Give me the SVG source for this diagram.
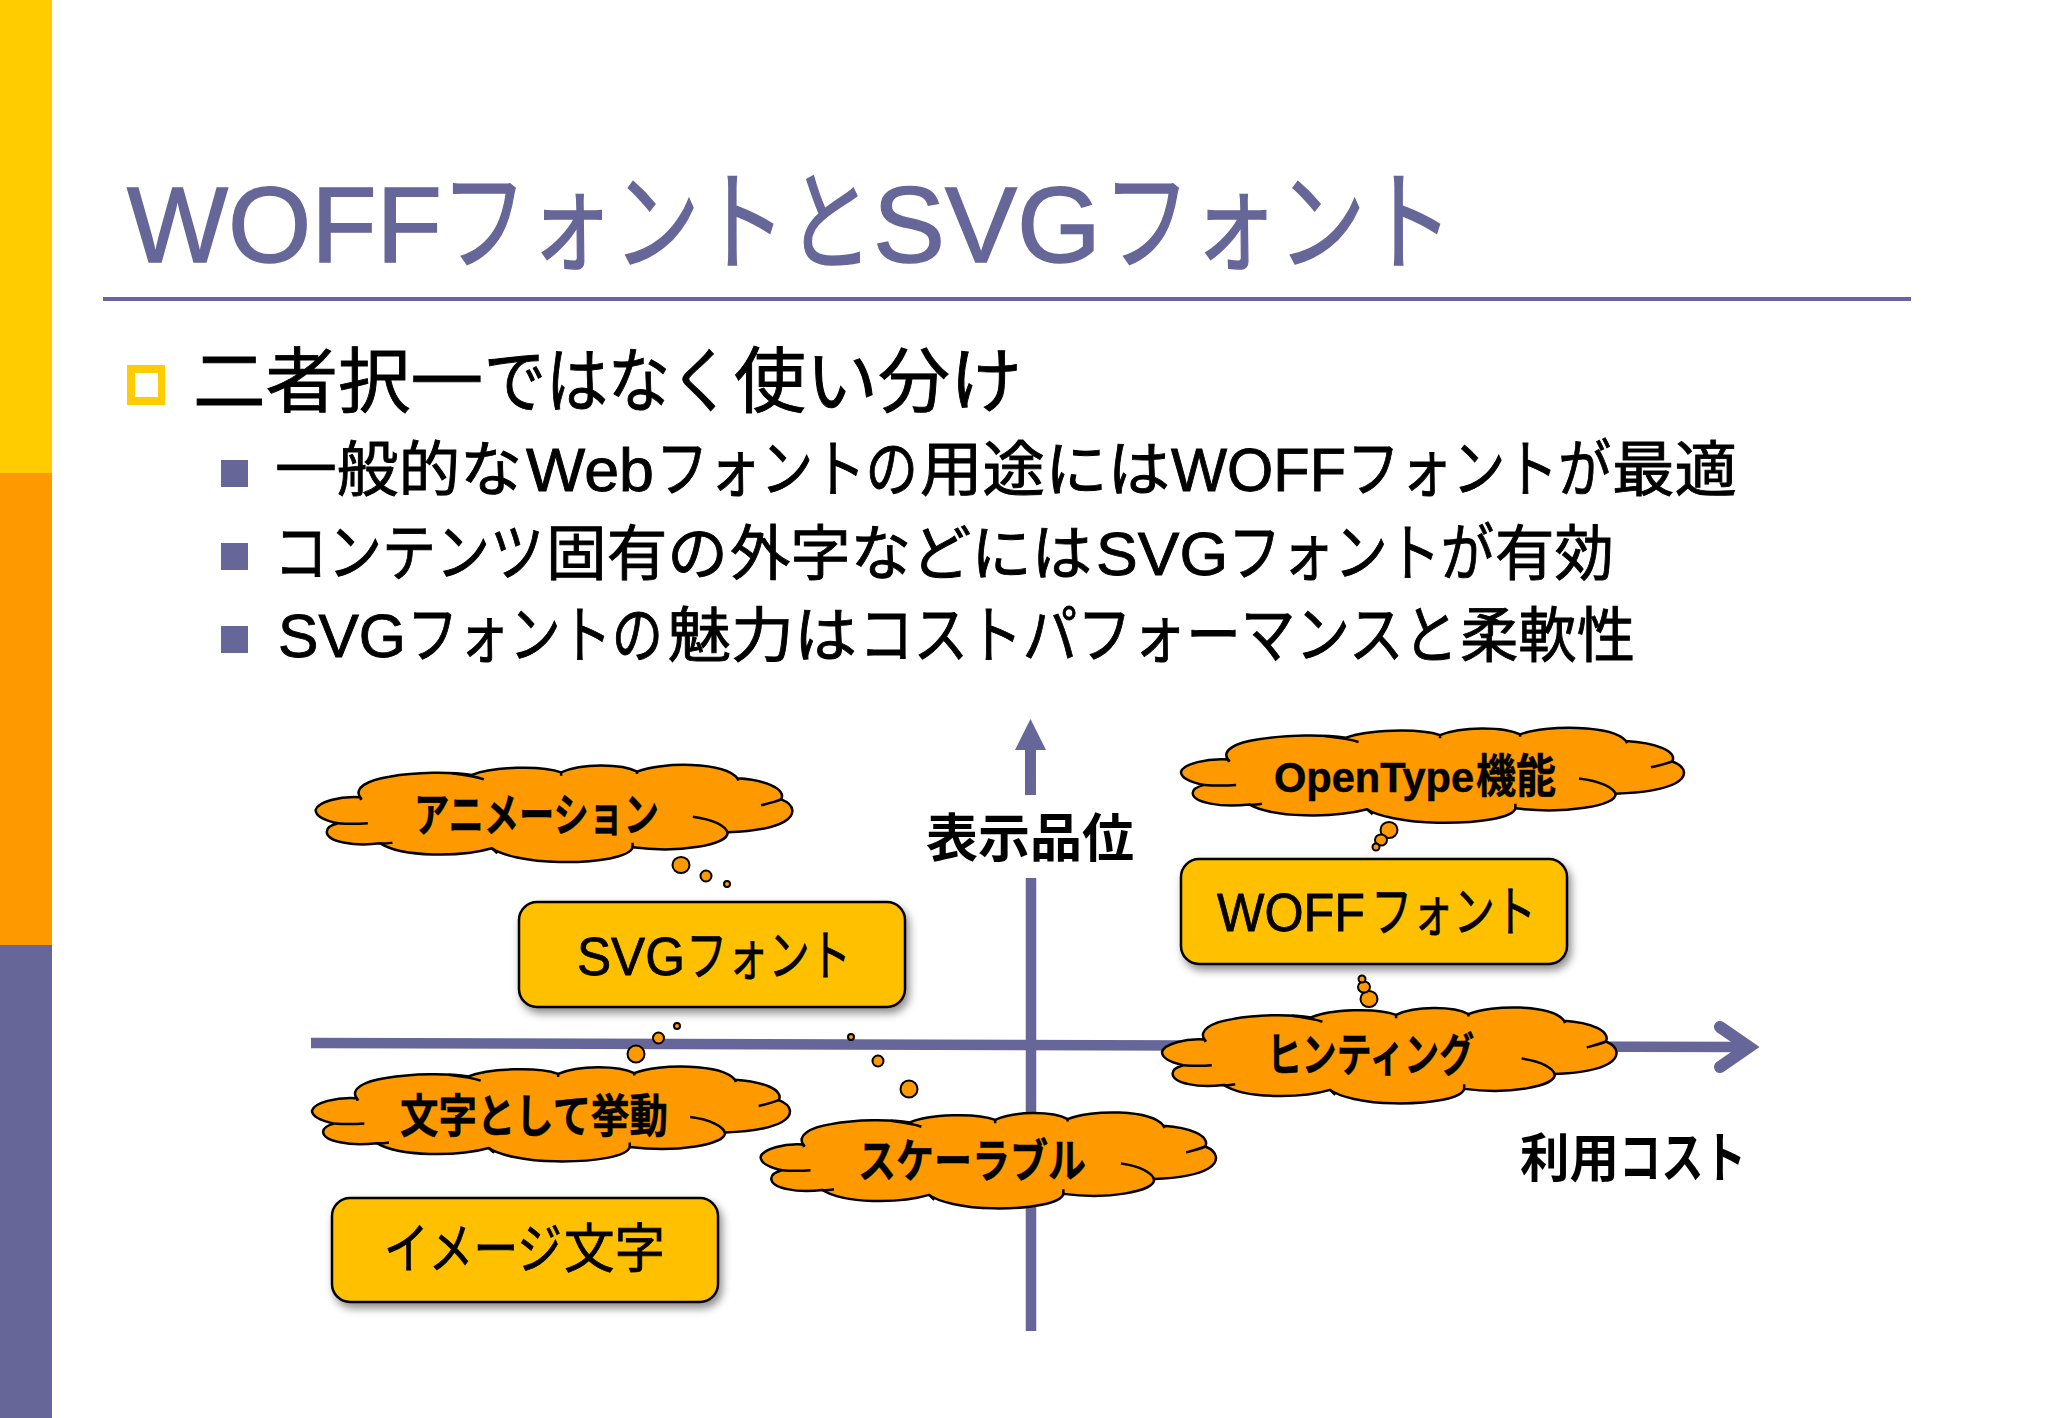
<svg xmlns="http://www.w3.org/2000/svg" width="2048" height="1418" viewBox="0 0 2048 1418">
<style>
text{font-family:"Liberation Sans","Noto Sans CJK JP",sans-serif;fill:#000}
.title{font-size:107px;fill:#666699;stroke:#666699;stroke-width:1.5}
.tk{font-size:110px}
.l1{font-size:71px;stroke:#000;stroke-width:.9}
.l2{font-size:60px;stroke:#000;stroke-width:.9}
.la{font-size:61px}.ka{font-size:63px}
.box{fill:#ffc000;stroke:#000;stroke-width:2.5;filter:url(#sh)}
.bt{font-size:53px;stroke:#000;stroke-width:.8}
.bk{font-size:55px}
.ct{font-size:46px;font-weight:700;stroke:#000;stroke-width:.5}
.cl{font-size:42px}
.ax{font-size:52px;font-weight:700}
.axk{font-size:55px}
.axis{fill:none;stroke:#666699;stroke-width:10.5}
.c{fill:#ff9900;stroke:#000;stroke-width:2.5;vector-effect:non-scaling-stroke}
.t{fill:none;stroke:#000;stroke-width:2.5;vector-effect:non-scaling-stroke}
.b{fill:#ff9900;stroke:#000;stroke-width:2}
</style>
<defs>
<filter id="sh" x="-10%" y="-15%" width="125%" height="135%"><feDropShadow dx="3" dy="5" stdDeviation="4" flood-color="#000" flood-opacity=".45"/></filter>
<g id="cloud">
<path class="c" d="M135 232C120 205 150 180 200 170C260 155 340 155 385 165C430 140 540 135 585 157C630 130 720 130 755 155C810 125 950 125 980 175C1040 180 1090 205 1078 238C1110 255 1110 285 1085 305C1055 328 1000 335 958 337C960 375 850 400 745 382C740 410 670 428 580 426C510 425 450 405 430 385C360 412 230 412 180 370C120 380 60 365 60 335C60 322 70 315 85 310C50 300 35 285 35 270C40 245 90 228 135 232Z"/>
<path class="t" d="M340 160C370 165 395 170 412 178M585 157L585 167M755 155L755 162M980 175L982 182M1078 238C1065 245 1050 250 1033 256M880 290C925 298 955 318 958 340M745 382L745 368M430 385L442 400M180 370C190 372 197 370 207 368M85 310C105 312 130 312 152 310M135 232L137 240"/>
</g>
</defs>
<rect width="2048" height="1418" fill="#fff"/>
<g id="sidebar"><rect width="52" height="473" fill="#ffcc00"/><rect y="473" width="52" height="472" fill="#ff9900"/><rect y="945" width="52" height="473" fill="#666699"/></g>
<g id="title">
<text class="title" y="262"><tspan x="127" textLength="315" lengthAdjust="spacingAndGlyphs">WOFF</tspan><tspan class="tk" x="441" textLength="345" lengthAdjust="spacingAndGlyphs">フォント</tspan><tspan class="tk" x="787" textLength="86" lengthAdjust="spacingAndGlyphs">と</tspan><tspan x="873" textLength="228" lengthAdjust="spacingAndGlyphs">SVG</tspan><tspan class="tk" x="1103" textLength="350" lengthAdjust="spacingAndGlyphs">フォント</tspan></text>
<rect x="103" y="297" width="1808" height="4" fill="#666699"/>
</g>
<g id="bullets">
<path d="M127 365H165V405H127ZM135 373V397H158V373Z" fill="#ffcc00" fill-rule="evenodd"/>
<text class="l1" y="406"><tspan x="193" textLength="290" lengthAdjust="spacingAndGlyphs">二者択一</tspan><tspan x="484" textLength="248" lengthAdjust="spacingAndGlyphs">ではなく</tspan><tspan x="734" textLength="288" lengthAdjust="spacingAndGlyphs">使い分け</tspan></text>
<rect x="221" y="460" width="27" height="27" fill="#666699"/>
<text class="l2" y="491"><tspan x="275" textLength="247" lengthAdjust="spacingAndGlyphs">一般的な</tspan><tspan class="la" x="526" textLength="128" lengthAdjust="spacingAndGlyphs">Web</tspan><tspan class="ka" x="656" textLength="262" lengthAdjust="spacingAndGlyphs">フォントの</tspan><tspan x="920" textLength="250" lengthAdjust="spacingAndGlyphs">用途には</tspan><tspan class="la" x="1171" textLength="175" lengthAdjust="spacingAndGlyphs">WOFF</tspan><tspan class="ka" x="1347" textLength="264" lengthAdjust="spacingAndGlyphs">フォントが</tspan><tspan x="1612" textLength="125" lengthAdjust="spacingAndGlyphs">最適</tspan></text>
<rect x="221" y="543" width="27" height="27" fill="#666699"/>
<text class="l2" y="575"><tspan class="ka" x="274" textLength="270" lengthAdjust="spacingAndGlyphs">コンテンツ</tspan><tspan x="546" textLength="182" lengthAdjust="spacingAndGlyphs">固有の</tspan><tspan x="730" textLength="362" lengthAdjust="spacingAndGlyphs">外字などには</tspan><tspan class="la" x="1096" textLength="132" lengthAdjust="spacingAndGlyphs">SVG</tspan><tspan class="ka" x="1228" textLength="266" lengthAdjust="spacingAndGlyphs">フォントが</tspan><tspan x="1495" textLength="119" lengthAdjust="spacingAndGlyphs">有効</tspan></text>
<rect x="221" y="626" width="27" height="27" fill="#666699"/>
<text class="l2" y="657"><tspan class="la" x="278" textLength="128" lengthAdjust="spacingAndGlyphs">SVG</tspan><tspan class="ka" x="407" textLength="256" lengthAdjust="spacingAndGlyphs">フォントの</tspan><tspan x="668" textLength="189" lengthAdjust="spacingAndGlyphs">魅力は</tspan><tspan class="ka" x="859" textLength="599" lengthAdjust="spacingAndGlyphs">コストパフォーマンスと</tspan><tspan x="1460" textLength="175" lengthAdjust="spacingAndGlyphs">柔軟性</tspan></text>
</g>
<g id="connectors">
<path class="axis" d="M311 1043L1745 1047"/>
<path class="axis" style="stroke-width:12" stroke-linecap="round" d="M1720 1027L1749 1047L1720 1067"/>
<path class="axis" d="M1031 878V1331"/>
<path d="M1030.500 719L1046 750H1036V795H1025V750H1015Z" fill="#666699"/>
</g>
<g id="axis-y-label"><text class="ax" x="926" y="857" textLength="208" lengthAdjust="spacingAndGlyphs">表示品位</text></g>
<g id="axis-x-label"><text class="ax" y="1177"><tspan x="1520" textLength="99" lengthAdjust="spacingAndGlyphs">利用</tspan><tspan class="axk" x="1619" textLength="127" lengthAdjust="spacingAndGlyphs">コスト</tspan></text></g>
<g id="box-svg"><rect class="box" x="519" y="902" width="386" height="105" rx="18"/><text class="bt" y="975"><tspan x="577" textLength="108" lengthAdjust="spacingAndGlyphs">SVG</tspan><tspan class="bk" x="686" textLength="165" lengthAdjust="spacingAndGlyphs">フォント</tspan></text></g>
<g id="box-woff"><rect class="box" x="1181" y="859" width="386" height="105" rx="18"/><text class="bt" y="931"><tspan x="1217" textLength="148" lengthAdjust="spacingAndGlyphs">WOFF</tspan><tspan class="bk" x="1371" textLength="165" lengthAdjust="spacingAndGlyphs">フォント</tspan></text></g>
<g id="box-image"><rect class="box" x="332" y="1198" width="386" height="104" rx="18"/><text class="bt" y="1268"><tspan class="bk" x="384" textLength="178" lengthAdjust="spacingAndGlyphs">イメージ</tspan><tspan x="564" textLength="101" lengthAdjust="spacingAndGlyphs">文字</tspan></text></g>
<g id="cloud-anim"><use href="#cloud" transform="translate(300 720) scale(.4464 .3333)"/>
<ellipse class="b" cx="681" cy="865" rx="8.500" ry="8"/><ellipse class="b" cx="706" cy="876" rx="5.500" ry="5.500"/><ellipse class="b" cx="727" cy="884" rx="3" ry="3"/>
<text class="ct" x="414" y="831" textLength="245" lengthAdjust="spacingAndGlyphs">アニメーション</text></g>
<g id="cloud-opentype"><use href="#cloud" transform="translate(1164.500 684) scale(.471 .3255)"/>
<ellipse class="b" cx="1389" cy="830" rx="8.500" ry="8"/><ellipse class="b" cx="1381" cy="840" rx="6" ry="5.500"/><ellipse class="b" cx="1376" cy="847" rx="3.500" ry="3.500"/>
<text class="ct" y="792"><tspan class="cl" x="1274" textLength="200" lengthAdjust="spacingAndGlyphs">OpenType</tspan><tspan x="1476" textLength="80" lengthAdjust="spacingAndGlyphs">機能</tspan></text></g>
<g id="cloud-hinting"><use href="#cloud" transform="translate(1147.100 963.200) scale(.4256 .329)"/>
<ellipse class="b" cx="1369" cy="999" rx="8.500" ry="8"/><ellipse class="b" cx="1364" cy="987" rx="6" ry="5.500"/><ellipse class="b" cx="1362" cy="979" rx="3.500" ry="3.500"/>
<text class="ct" x="1267" y="1071" textLength="207" lengthAdjust="spacingAndGlyphs">ヒンティング</text></g>
<g id="cloud-text"><use href="#cloud" transform="translate(296.300 1022.700) scale(.4476 .3255)"/>
<ellipse class="b" cx="636" cy="1054" rx="8.500" ry="8.500"/><ellipse class="b" cx="658.500" cy="1038" rx="5.500" ry="5.500"/><ellipse class="b" cx="677" cy="1026" rx="3" ry="3"/>
<text class="ct" x="400" y="1132" textLength="268" lengthAdjust="spacingAndGlyphs">文字として挙動</text></g>
<g id="cloud-scalable"><use href="#cloud" transform="translate(745.700 1068.200) scale(.4264 .329)"/>
<ellipse class="b" cx="909" cy="1089" rx="8.500" ry="8.500"/><ellipse class="b" cx="878" cy="1061" rx="5.500" ry="5.500"/><ellipse class="b" cx="851" cy="1037" rx="3" ry="3"/>
<text class="ct" x="858" y="1177" textLength="228" lengthAdjust="spacingAndGlyphs">スケーラブル</text></g>
</svg>
